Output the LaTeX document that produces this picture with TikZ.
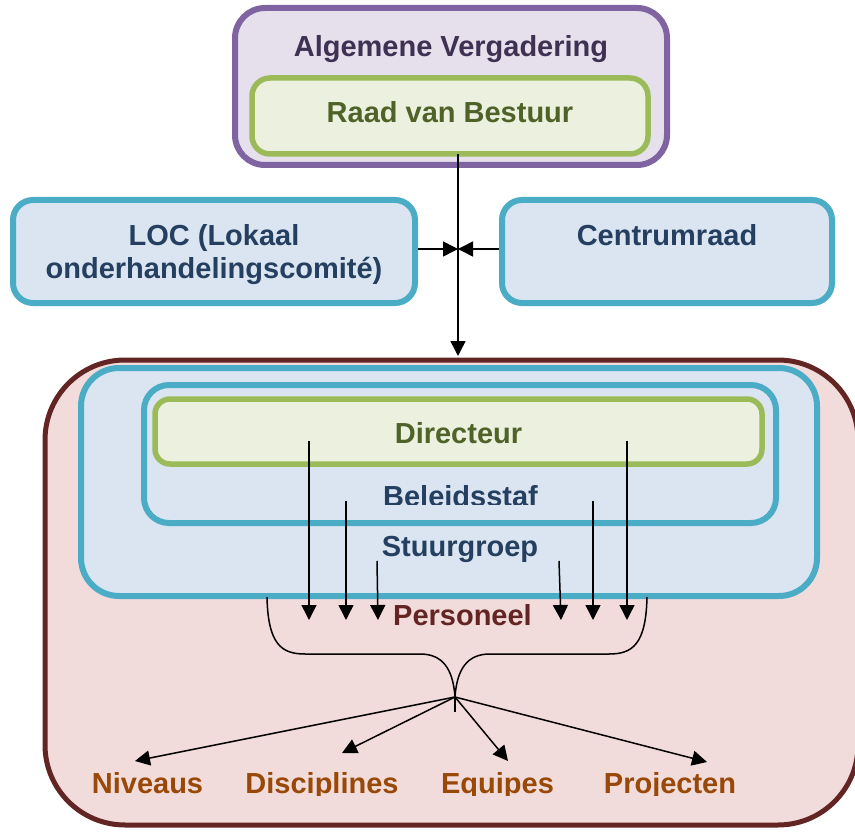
\documentclass[tikz,border=0pt]{standalone}
\usepackage{fontspec}
\setmainfont{Liberation Sans}
\usetikzlibrary{arrows.meta}
\definecolor{purpleB}{HTML}{8064A2}
\definecolor{purpleF}{HTML}{E5E0EC}
\definecolor{purpleT}{HTML}{3F3151}
\definecolor{greenB}{HTML}{9BBB59}
\definecolor{greenF}{HTML}{EBF1DE}
\definecolor{greenT}{HTML}{4F6228}
\definecolor{blueB}{HTML}{4BACC6}
\definecolor{blueF}{HTML}{DBE5F1}
\definecolor{blueT}{HTML}{243F60}
\definecolor{redB}{HTML}{632523}
\definecolor{redF}{HTML}{F2DCDB}
\definecolor{orangeT}{HTML}{984807}
\begin{document}
\begin{tikzpicture}[x=1pt,y=-1pt,
  purplebox/.style={draw=purpleB,fill=purpleF,line width=6pt,rectangle},
  greenbox/.style={draw=greenB,fill=greenF,line width=5.5pt,rectangle},
  bluebox/.style={draw=blueB,fill=blueF,line width=6pt,rectangle},
  redbox/.style={draw=redB,fill=redF,line width=5pt,rectangle},
  lbl/.style={font=\fontsize{29}{34}\selectfont\bfseries,anchor=base,inner sep=0pt},
  conn/.style={line width=1.5pt,-{Triangle[length=15pt,width=15pt]}},
  plain/.style={line width=1.5pt}]
\useasboundingbox (0,0) rectangle (855,832);
% top
\node[purplebox,rounded corners=30pt,minimum width=432pt,minimum height=157pt] (av) at (451,86.5) {};
\node[greenbox,rounded corners=18pt,minimum width=396pt,minimum height=76pt] (rvb) at (450,116) {};
\node[lbl,text=purpleT] (tav) at (451,57) {Algemene Vergadering};
\node[lbl,text=greenT] (trvb) at (450,123) {Raad van Bestuur};
% middle
\node[bluebox,rounded corners=20pt,minimum width=402pt,minimum height=103pt] (loc) at (214,251.5) {};
\node[bluebox,rounded corners=20pt,minimum width=330pt,minimum height=103pt] (cr) at (667,251.5) {};
\node[lbl,text=blueT] (tloc1) at (214,245) {LOC (Lokaal};
\node[lbl,text=blueT] (tloc2) at (214,279) {onderhandelingscomité)};
\node[lbl,text=blueT] (tcr) at (667,246) {Centrumraad};
% bottom
\node[redbox,rounded corners=80pt,minimum width=813pt,minimum height=465pt] (pers) at (451.5,592.5) {};
\node[bluebox,rounded corners=38pt,minimum width=736pt,minimum height=228pt] (stuur) at (449,482) {};
\node[bluebox,rounded corners=25pt,minimum width=632pt,minimum height=138pt] (bel) at (460,454) {};
\node[greenbox,rounded corners=15pt,minimum width=607pt,minimum height=65pt] (dir) at (458.5,431.5) {};
\node[lbl,text=greenT] (tdir) at (458.5,443) {Directeur};
\begin{scope}
\clip (0,0) rectangle (855,504);
\node[lbl,text=blueT] (tbel) at (460.5,506) {Beleidsstaf};
\end{scope}
\node[lbl,text=blueT] (tstuur) at (460,556) {Stuurgroep};
\node[lbl,text=redB] (tpers) at (462.5,625) {Personeel};
\begin{scope}
\clip (0,0) rectangle (855,795);
\node[lbl,text=orangeT] (niv) at (147.5,793) {Niveaus};
\node[lbl,text=orangeT] (dis) at (322,793) {Disciplines};
\node[lbl,text=orangeT] (equ) at (497.5,793) {Equipes};
\node[lbl,text=orangeT] (pro) at (670,793) {Projecten};
\end{scope}
% connectors top
\coordinate (vtop) at (458,154);
\coordinate (vbot) at (458,356);
\coordinate (mid) at (458,249);
\draw[conn] (vtop) -- (vbot);
\draw[conn] (loc.east |- mid) -- (mid);
\draw[conn] (cr.west |- mid) -- (mid);
% vertical arrows
\coordinate (a1s) at (309,441); \coordinate (a1e) at (309,620);
\coordinate (a2s) at (346,501); \coordinate (a2e) at (346,620);
\coordinate (a3s) at (377,561); \coordinate (a3e) at (378,620);
\coordinate (a4s) at (559,561); \coordinate (a4e) at (561,620);
\coordinate (a5s) at (593,501); \coordinate (a5e) at (593,620);
\coordinate (a6s) at (627,441); \coordinate (a6e) at (627,620);
\foreach \i in {1,...,6} {\draw[conn] (a\i s) -- (a\i e);}
% brace
\coordinate (bl) at (267,597);
\coordinate (br) at (647,597);
\coordinate (tip) at (455,697);
\draw[plain] (bl) .. controls (268,645) and (282,654) .. (305,654)
  -- (420,654) .. controls (442,654) and (453,668) .. (tip)
  .. controls (457,668) and (468,654) .. (490,654)
  -- (609,654) .. controls (632,654) and (646,645) .. (br);
\coordinate (tick) at (455,712);
\draw[plain] (tip) -- (tick);
% fan arrows
\coordinate (f1) at (135,761);
\coordinate (f2) at (342,753);
\coordinate (f3) at (508,761);
\coordinate (f4) at (707,762);
\foreach \i in {1,...,4} {\draw[conn] (tip) -- (f\i);}
\end{tikzpicture}
\end{document}
